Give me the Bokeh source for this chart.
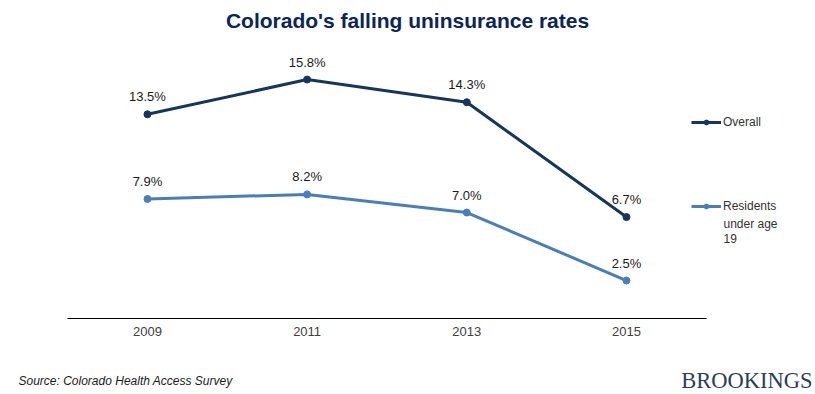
from bokeh.plotting import figure
from bokeh.models import (ColumnDataSource, Range1d, LabelSet, Label,
                          Legend, LegendItem, FixedTicker)
from bokeh.core.properties import value
from bokeh.embed import file_html
from bokeh.resources import INLINE

years = [2009, 2011, 2013, 2015]
year_labels = ["2009", "2011", "2013", "2015"]
overall = [13.5, 15.8, 14.3, 6.7]
residents = [7.9, 8.2, 7.0, 2.5]
overall_labels = ["13.5%", "15.8%", "14.3%", "6.7%"]
residents_labels = ["7.9%", "8.2%", "7.0%", "2.5%"]

C_OVERALL = "#17365D"
C_RES = "#4A7EBB"
FONT = "Liberation Sans"

p = figure(width=815, height=394, x_range=Range1d(2007.159, 2017.368),
           y_range=Range1d(-5.04, 21.03),
           output_backend="svg", toolbar_location=None,
           min_border_left=0, min_border_right=0, min_border_top=0, min_border_bottom=0)
p.outline_line_color = None
p.grid.visible = False
p.yaxis.visible = False
p.background_fill_color = "white"
p.border_fill_color = "white"

xa = p.xaxis[0]
xa.fixed_location = 0
xa.bounds = (2008, 2016)
xa.ticker = FixedTicker(ticks=years)
xa.major_label_overrides = {y: l for y, l in zip(years, year_labels)}
xa.axis_line_color = "#000000"
xa.axis_line_width = 1
xa.major_tick_line_color = None
xa.minor_tick_line_color = None
xa.major_tick_out = 0
xa.major_tick_in = 0
xa.major_label_text_font = FONT
xa.major_label_text_font_size = "13px"
xa.major_label_text_color = "#404040"
xa.major_label_standoff = 9

src_o = ColumnDataSource(dict(x=years, y=overall, t=overall_labels))
src_r = ColumnDataSource(dict(x=years, y=residents, t=residents_labels))

lo = p.line("x", "y", source=src_o, line_color=C_OVERALL, line_width=3)
so = p.scatter("x", "y", source=src_o, size=7, fill_color=C_OVERALL, line_color=C_OVERALL)
lr = p.line("x", "y", source=src_r, line_color=C_RES, line_width=3)
sr = p.scatter("x", "y", source=src_r, size=7, fill_color=C_RES, line_color=C_RES)

for src in (src_o, src_r):
    p.add_layout(LabelSet(x="x", y="y", text="t", source=src, y_offset=10,
                          text_align="center", text_baseline="bottom",
                          text_font=value(FONT), text_font_size="13px",
                          text_color="#1a1a1a"))

def add_legend(label, rend, y):
    lg = Legend(items=[LegendItem(label=label, renderers=rend)], location=(691, y),
                orientation="vertical", padding=0, margin=0, spacing=0,
                glyph_width=30, glyph_height=12, label_height=12, label_standoff=2,
                label_text_font=FONT, label_text_font_size="12px",
                label_text_color="#333333",
                border_line_color=None, background_fill_alpha=0)
    p.add_layout(lg)

add_legend("Overall", [lo, so], 265)
add_legend("Residents", [lr, sr], 181)
p.add_layout(Label(x=723, y=171, x_units="screen", y_units="screen", text="under age",
                   text_font=FONT, text_font_size="12px", text_color="#333333",
                   text_baseline="middle"))
p.add_layout(Label(x=723, y=156, x_units="screen", y_units="screen", text="19",
                   text_font=FONT, text_font_size="12px", text_color="#333333",
                   text_baseline="middle"))

# Title
p.add_layout(Label(x=407, y=374, x_units="screen", y_units="screen",
                   text="Colorado's falling uninsurance rates",
                   text_font=FONT, text_font_size="21px", text_font_style="bold",
                   text_color="#0B2555", text_align="center", text_baseline="middle"))
# Source
p.add_layout(Label(x=18, y=14, x_units="screen", y_units="screen",
                   text="Source: Colorado Health Access Survey",
                   text_font=FONT, text_font_size="12px", text_font_style="italic",
                   text_color="#1a1a1a", text_baseline="middle"))
# Brand
p.add_layout(Label(x=812, y=14, x_units="screen", y_units="screen",
                   text="BROOKINGS", text_font="Liberation Serif", text_font_size="22.5px",
                   text_color="#2E3B5C", text_align="right", text_baseline="middle"))

open("out.html", "w").write(file_html(p, INLINE))
